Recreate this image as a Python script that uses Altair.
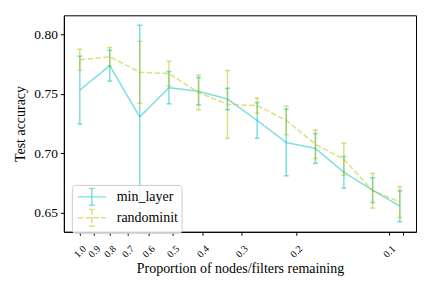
import altair as alt
import pandas as pd

# ---- data ----
x_vals = [1.0, 0.8, 0.64, 0.515, 0.413, 0.333, 0.267, 0.215, 0.173, 0.14, 0.113, 0.0923]
min_layer_mean = [0.753, 0.7735, 0.7305, 0.755, 0.752, 0.7455, 0.7275, 0.709, 0.704, 0.684, 0.669, 0.6555]
min_layer_std = [0.0285, 0.013, 0.077, 0.0136, 0.0115, 0.009, 0.015, 0.028, 0.0125, 0.0133, 0.0104, 0.013]
randominit_mean = [0.7785, 0.781, 0.768, 0.7668, 0.751, 0.741, 0.740, 0.7275, 0.7075, 0.695, 0.6685, 0.659]
randominit_std = [0.0089, 0.0077, 0.026, 0.0105, 0.0146, 0.0285, 0.0063, 0.012, 0.012, 0.0135, 0.0146, 0.013]
series_names = ["min_layer", "randominit"]
x_ticks = [1.0, 0.9, 0.8, 0.7, 0.6, 0.5, 0.4, 0.3, 0.2, 0.1, 0.09]
y_ticks = [0.65, 0.70, 0.75, 0.80]

rows = []
for name, means, stds in [("min_layer", min_layer_mean, min_layer_std),
                          ("randominit", randominit_mean, randominit_std)]:
    for xv, m, s in zip(x_vals, means, stds):
        rows.append({"series": name, "x": xv, "mean": m, "lo": m - s, "hi": m + s})
df = pd.DataFrame(rows)

FONT = "Liberation Serif"
color_scale = alt.Scale(domain=series_names, range=["#00bfbf", "#bfbf00"])
dash_scale = alt.Scale(domain=series_names, range=[[1, 0], [5.5, 2.4]])
x_scale = alt.Scale(type="log", domain=[0.0818, 1.126], reverse=True, nice=False)
y_scale = alt.Scale(domain=[0.634, 0.8158], nice=False, zero=False)

x_axis = alt.Axis(values=x_ticks,
                  labelExpr="datum.value < 0.095 ? '' : format(datum.value, '.1f')",
                  labelAngle=-45, labelAlign="center", labelBaseline="middle",
                  labelPadding=16, labelFontSize=10, labelOverlap=False, labelFlush=False,
                  labelFont=FONT, titleFont=FONT,
                  tickSize=3.5, grid=False, titlePadding=2)
y_axis = alt.Axis(values=y_ticks, format=".2f", labelFontSize=13.5, labelPadding=3,
                  labelFont=FONT, titleFont=FONT,
                  tickSize=3.5, grid=False, titlePadding=6)

X = alt.X("x:Q", scale=x_scale, axis=x_axis, title="Proportion of nodes/filters remaining")
C = alt.Color("series:N", scale=color_scale)

base = alt.Chart(df)

bars = base.mark_rule(strokeWidth=1.5, opacity=0.5).encode(
    x=X,
    y=alt.Y("lo:Q", scale=y_scale, axis=y_axis, title="Test accuracy"),
    y2="hi:Q",
    color=C,
)
cap_lo = base.mark_tick(orient="horizontal", size=5, thickness=1.5, opacity=0.5).encode(
    x=X, y=alt.Y("lo:Q", scale=y_scale), color=C)
cap_hi = base.mark_tick(orient="horizontal", size=5, thickness=1.5, opacity=0.5).encode(
    x=X, y=alt.Y("hi:Q", scale=y_scale), color=C)

leg = alt.Legend(title=None, orient="none", legendX=8, legendY=170,
                 symbolType="M-1.75,0L1.75,0M0,-1.05L0,1.05M-0.35,-1.05L0.35,-1.05M-0.35,1.05L0.35,1.05",
                 symbolSize=256, symbolStrokeWidth=1.5, symbolOpacity=0.5,
                 symbolOffset=8, labelOffset=16, labelFontSize=14, labelFont=FONT,
                 rowPadding=-6,
                 padding=3, strokeColor="#cccccc", fillColor="rgba(255,255,255,0.8)",
                 cornerRadius=3)

line = base.mark_line(strokeWidth=1.5, opacity=0.5).encode(
    x=X,
    y=alt.Y("mean:Q", scale=y_scale),
    color=alt.Color("series:N", scale=color_scale, legend=leg),
    strokeDash=alt.StrokeDash("series:N", scale=dash_scale, legend=leg),
)

chart = alt.layer(bars, cap_lo, cap_hi, line).properties(
    width=353, height=217,
    autosize=alt.AutoSizeParams(type="none"),
    padding={"left": 56, "top": 7, "right": 8, "bottom": 49},
).configure(font=FONT, background="white").configure_view(
    stroke="black", strokeWidth=1
).configure_axis(
    domainColor="black", tickColor="black", labelColor="black", titleColor="black",
    titleFontSize=14, titleFontWeight="normal", labelFont=FONT, titleFont=FONT,
).configure_legend(labelFont=FONT, labelColor="black")

chart.save("out.html", embed_options={"renderer": "svg", "actions": False})
